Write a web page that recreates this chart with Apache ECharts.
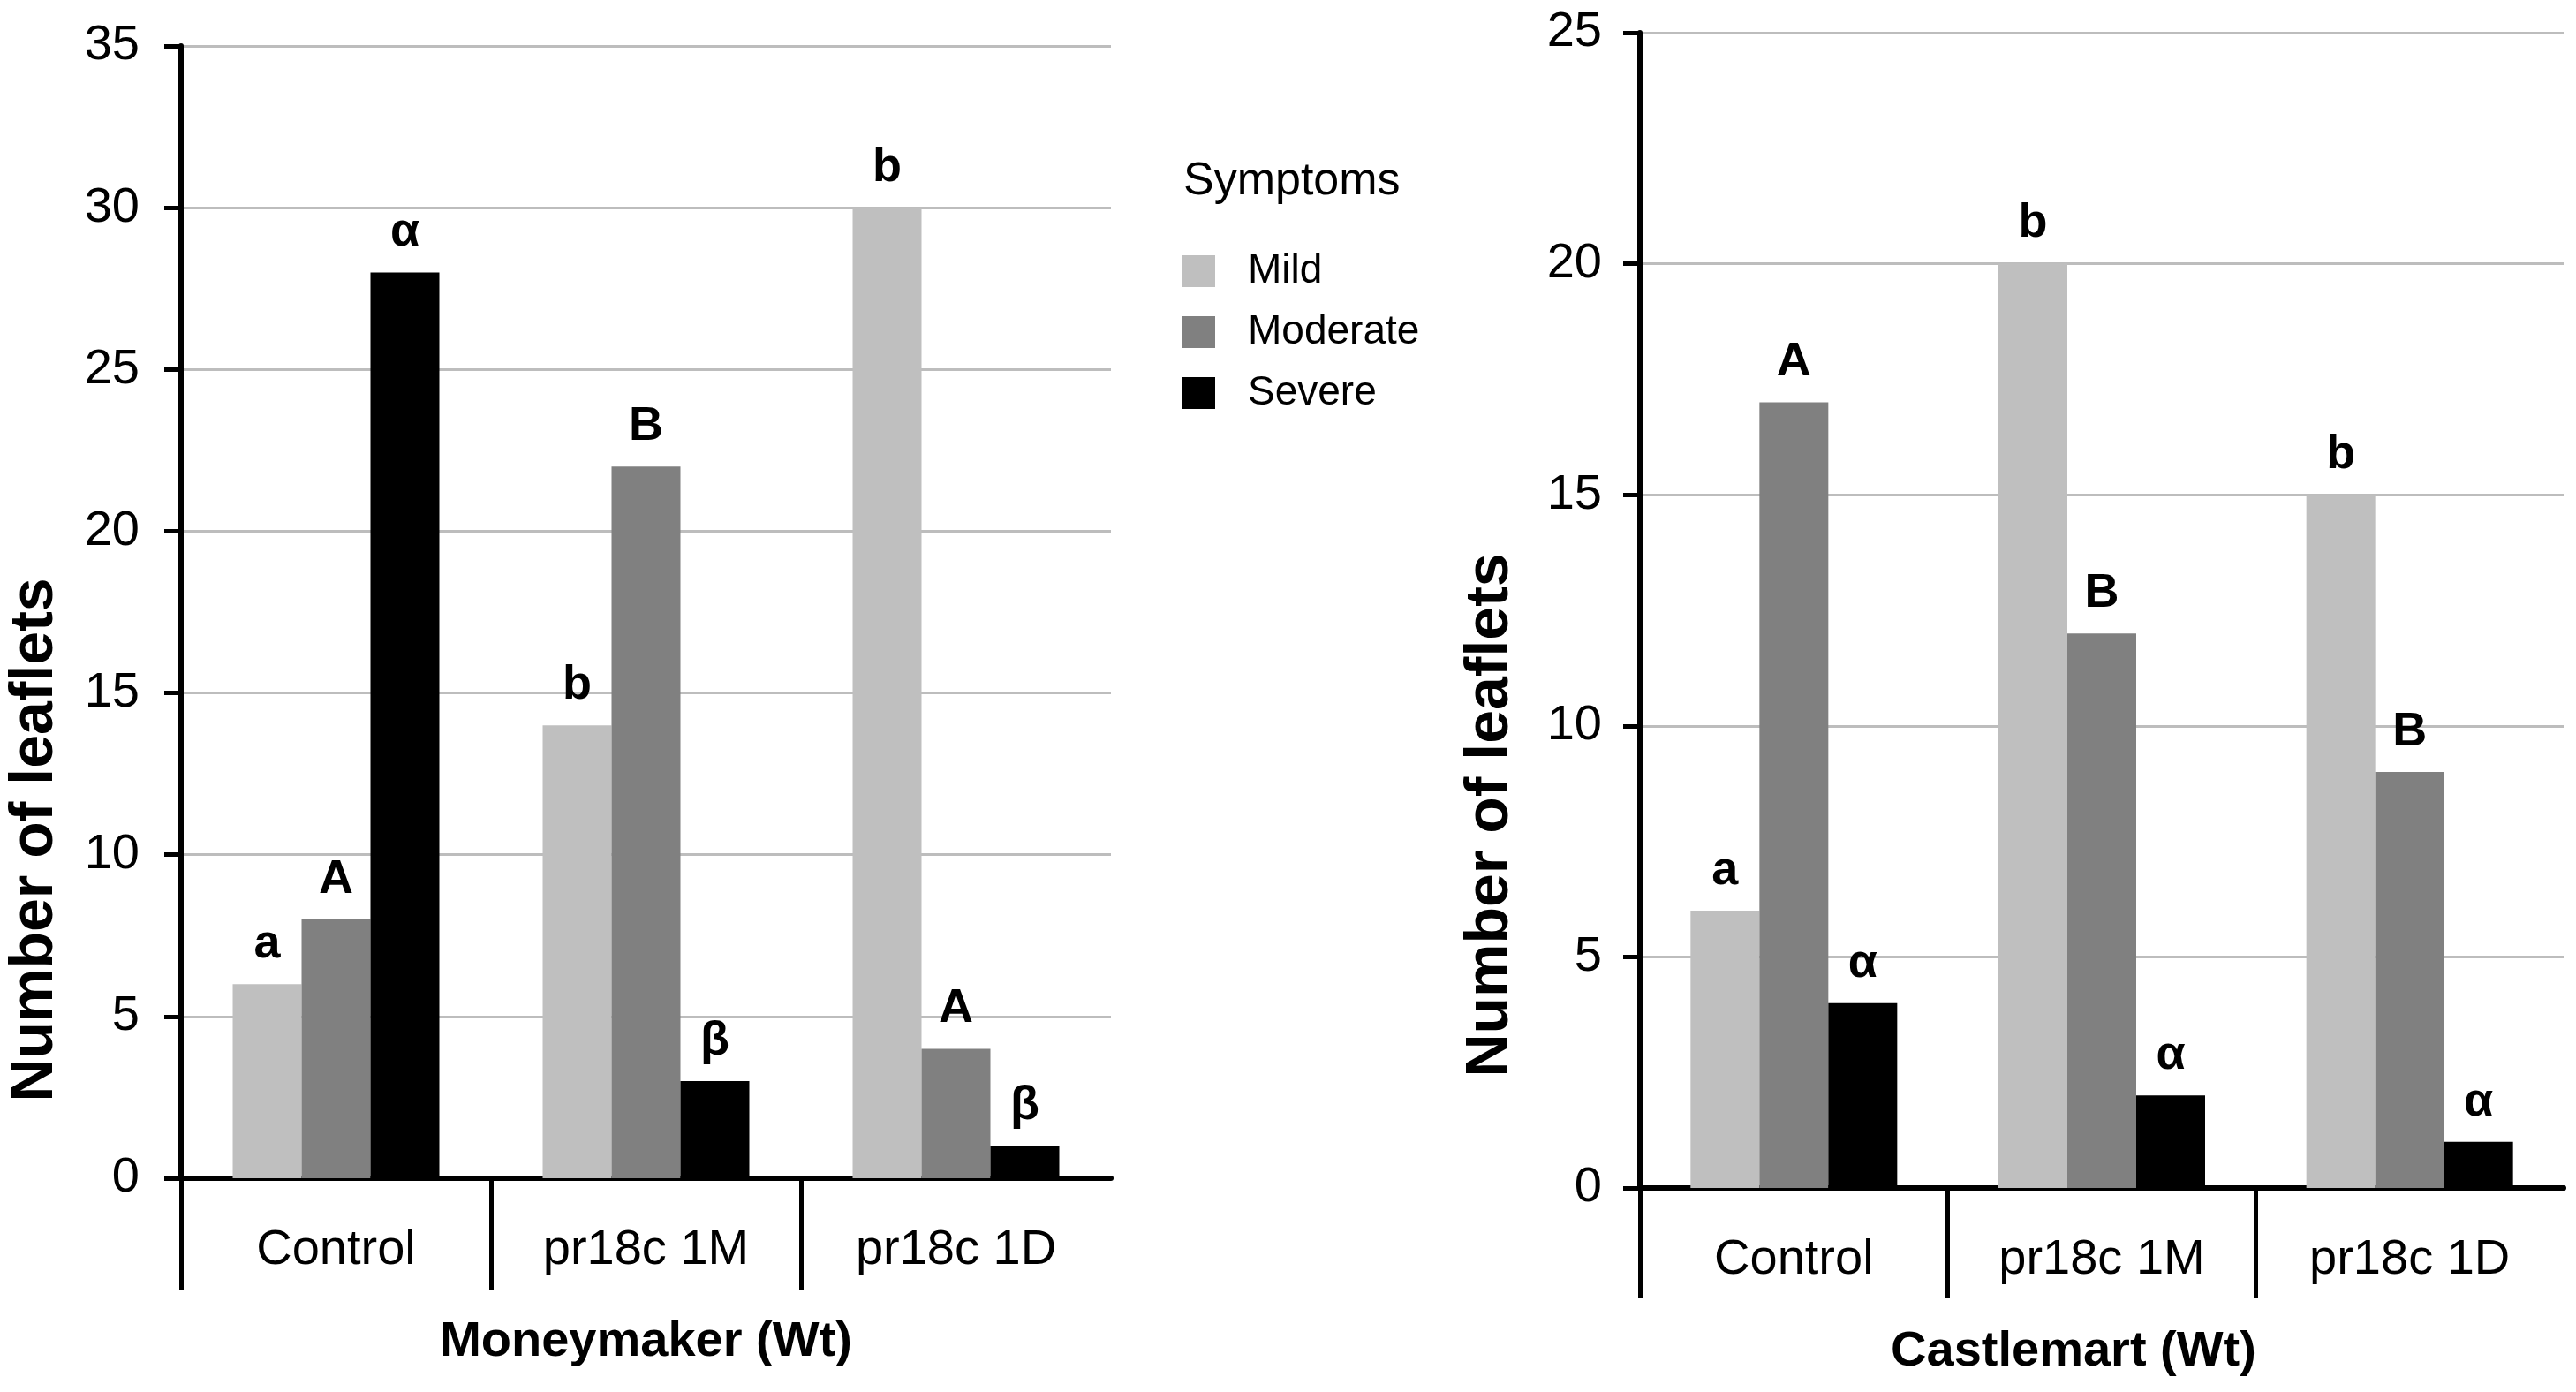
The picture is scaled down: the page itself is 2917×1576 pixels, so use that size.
<!DOCTYPE html>
<html>
<head>
<meta charset="utf-8">
<script src="https://cdn.jsdelivr.net/npm/echarts@6/dist/echarts.min.js"></script>
<style>
  html, body { margin: 0; padding: 0; background: #fff; }
  #chart { width: 2917px; height: 1576px; }
</style>
</head>
<body>
<div id="chart"></div>
<script>
var FONT = '"Liberation Sans", Arial, sans-serif';

// data
var categories = ['Control', 'pr18c 1M', 'pr18c 1D'];
var symptoms = ['Mild', 'Moderate', 'Severe'];
var colors = ['#bfbfbf', '#808080', '#000000'];

// Moneymaker (Wt)
var mmMild = [6, 14, 30];
var mmModerate = [8, 22, 4];
var mmSevere = [28, 3, 1];
var mmMildSig = ['a', 'b', 'b'];
var mmModerateSig = ['A', 'B', 'A'];
var mmSevereSig = ['α', 'β', 'β'];

// Castlemart (Wt)
var cmMild = [6, 20, 15];
var cmModerate = [17, 12, 9];
var cmSevere = [4, 2, 1];
var cmMildSig = ['a', 'b', 'b'];
var cmModerateSig = ['A', 'B', 'B'];
var cmSevereSig = ['α', 'α', 'α'];

var leftTicks = [0, 5, 10, 15, 20, 25, 30, 35];
var rightTicks = [0, 5, 10, 15, 20, 25];

var myChart = echarts.init(document.getElementById('chart'));

function barSeries(name, values, sig, grid, color) {
    return {
        name: name,
        type: 'bar',
        xAxisIndex: grid * 2,
        yAxisIndex: grid,
        data: values,
        barWidth: 78,
        barGap: '0%',
        itemStyle: { color: color },
        label: {
            show: true,
            position: 'top',
            distance: 18,
            formatter: function (p) { return sig[p.dataIndex]; },
            fontFamily: FONT,
            fontWeight: 'bold',
            fontSize: 54,
            color: '#000'
        }
    };
}

function catAxis(grid, axisName, namePad) {
    return {
        type: 'category',
        gridIndex: grid,
        position: 'bottom',
        data: categories,
        axisLine: { lineStyle: { color: '#000', width: 6 } },
        axisTick: { show: false },
        axisLabel: { fontFamily: FONT, fontSize: 56, color: '#000', margin: 54 },
        name: axisName,
        nameLocation: 'middle',
        nameGap: 158,
        nameTextStyle: { fontFamily: FONT, fontSize: 56, fontWeight: 'bold', color: '#000', padding: namePad }
    };
}

// separators hanging below the category axis
function sepAxis(grid, len) {
    return {
        type: 'value',
        gridIndex: grid,
        position: 'bottom',
        min: 0,
        max: 3,
        interval: 1,
        axisLine: { show: false },
        axisLabel: { show: false },
        splitLine: { show: false },
        axisTick: {
            show: true,
            length: len,
            customValues: [0, 1, 2],
            lineStyle: { color: '#000', width: 5 }
        }
    };
}

function valAxis(grid, max, margin) {
    return {
        type: 'value',
        gridIndex: grid,
        min: 0,
        max: max,
        interval: 5,
        axisLine: { show: true, onZero: false, lineStyle: { color: '#000', width: 6 } },
        axisTick: { show: true, length: 19, lineStyle: { color: '#000', width: 5 } },
        axisLabel: { fontFamily: FONT, fontSize: 56, color: '#000', margin: margin },
        splitLine: { show: true, lineStyle: { color: '#bdbdbd', width: 3 } }
    };
}

var option = {
    backgroundColor: '#fff',
    animation: false,
    title: {
        text: 'Symptoms',
        left: 1340,
        top: 180,
        padding: 0,
        textStyle: { fontFamily: FONT, fontSize: 52, fontWeight: 'normal', color: '#000' }
    },
    legend: {
        orient: 'vertical',
        left: 1339,
        top: 284,
        padding: 0,
        icon: 'rect',
        itemWidth: 37,
        itemHeight: 36,
        itemGap: 23,
        data: symptoms,
        textStyle: { fontFamily: FONT, fontSize: 46, color: '#000', padding: [0, 0, 0, 32] }
    },
    grid: [
        { left: 205, top: 52, width: 1053, height: 1282, outerBoundsMode: 'none' },
        { left: 1857, top: 37, width: 1046, height: 1308, outerBoundsMode: 'none' }
    ],
    xAxis: [
        catAxis(0, 'Moneymaker (Wt)', [0, 0, 0, 0]),
        sepAxis(0, 126),
        catAxis(1, 'Castlemart (Wt)', [0, 64, 0, 0]),
        sepAxis(1, 125)
    ],
    yAxis: [
        valAxis(0, leftTicks[leftTicks.length - 1], 47),
        valAxis(1, rightTicks[rightTicks.length - 1], 43)
    ],
    graphic: [
        {
            type: 'text', x: 40, y: 951, rotation: Math.PI / 2,
            style: { text: 'Number of leaflets', font: 'bold 68px ' + FONT, fill: '#000',
                textAlign: 'center', textVerticalAlign: 'middle' }
        },
        {
            type: 'text', x: 1688, y: 923, rotation: Math.PI / 2,
            style: { text: 'Number of leaflets', font: 'bold 68px ' + FONT, fill: '#000',
                textAlign: 'center', textVerticalAlign: 'middle' }
        }
    ],
    series: [
        barSeries('Mild', mmMild, mmMildSig, 0, colors[0]),
        barSeries('Moderate', mmModerate, mmModerateSig, 0, colors[1]),
        barSeries('Severe', mmSevere, mmSevereSig, 0, colors[2]),
        barSeries('Mild', cmMild, cmMildSig, 1, colors[0]),
        barSeries('Moderate', cmModerate, cmModerateSig, 1, colors[1]),
        barSeries('Severe', cmSevere, cmSevereSig, 1, colors[2])
    ]
};

myChart.setOption(option);
</script>
</body>
</html>
